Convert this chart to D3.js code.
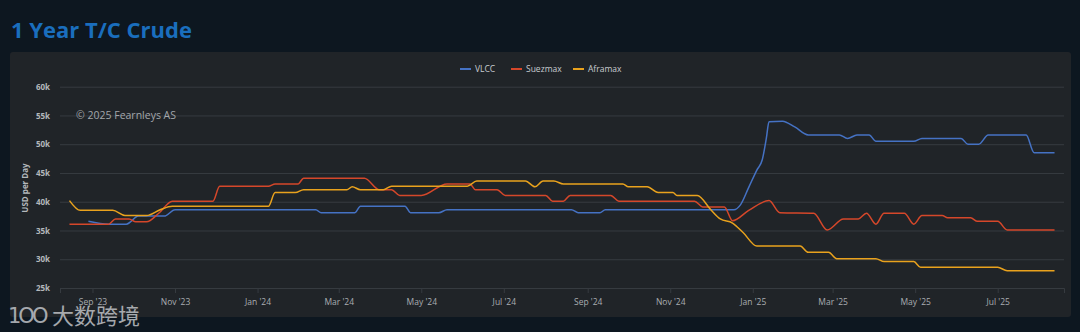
<!DOCTYPE html>
<html><head><meta charset="utf-8">
<script src="https://cdn.jsdelivr.net/npm/d3@7"></script>
<style>
html,body{margin:0;padding:0;background:#0d1720;}
svg{display:block;font-family:"Open Sans","Liberation Sans",sans-serif;}
</style></head>
<body><svg id="c" width="1080" height="332"></svg>
<script>
// ---- data ----
const seriesNames = ["VLCC", "Suezmax", "Aframax"];
const yTicks = [25000, 30000, 35000, 40000, 45000, 50000, 55000, 60000];
const xTickDates = ["2023-09-01","2023-11-01","2024-01-01","2024-03-01","2024-05-01","2024-07-01","2024-09-01","2024-11-01","2025-01-01","2025-03-01","2025-05-01","2025-07-01"];
const vlccDates = ["2023-08-29","2023-09-13","2023-09-26","2023-10-05","2023-10-24","2023-11-01","2024-02-13","2024-02-17","2024-03-13","2024-03-17","2024-04-19","2024-04-23","2024-05-14","2024-05-20","2024-08-20","2024-08-25","2024-09-10","2024-09-14","2024-12-18","2024-12-23","2024-12-29","2025-01-04","2025-01-08","2025-01-11","2025-01-13","2025-01-23","2025-02-01","2025-02-11","2025-03-06","2025-03-12","2025-03-19","2025-03-28","2025-04-02","2025-04-30","2025-05-06","2025-06-04","2025-06-09","2025-06-17","2025-06-24","2025-07-22","2025-07-28","2025-08-12"];
const vlccValues = [36600,36100,36100,37500,37500,38600,38600,38100,38100,39200,39200,38100,38100,38600,38600,38100,38100,38600,38600,39500,42500,45500,47300,51000,53900,54000,53000,51600,51600,51000,51600,51600,50500,50500,51000,51000,50000,50000,51600,51600,48500,48500];
const suezDates = ["2023-08-15","2023-09-13","2023-09-18","2023-09-28","2023-10-03","2023-10-11","2023-10-20","2023-10-30","2023-11-29","2023-12-04","2024-01-09","2024-01-14","2024-01-31","2024-02-04","2024-03-20","2024-03-31","2024-04-09","2024-04-15","2024-05-01","2024-05-20","2024-06-06","2024-06-10","2024-06-26","2024-07-02","2024-08-01","2024-08-06","2024-08-14","2024-08-19","2024-09-18","2024-09-24","2024-11-19","2024-11-25","2024-12-11","2024-12-17","2024-12-29","2025-01-13","2025-01-21","2025-02-15","2025-02-25","2025-03-09","2025-03-20","2025-03-26","2025-04-02","2025-04-08","2025-04-23","2025-04-30","2025-05-06","2025-05-21","2025-05-25","2025-06-11","2025-06-16","2025-07-01","2025-07-08","2025-08-12"];
const suezValues = [36100,36100,37000,37000,36500,36500,38000,40100,40100,42700,42700,43100,43100,44100,44100,42100,42100,41100,41100,43100,43100,42100,42100,41100,41100,40100,40100,41100,41100,40100,40100,39100,39100,36700,38500,40200,38100,38000,35100,37000,37000,38000,36100,38000,38000,36100,37600,37600,37200,37200,36600,36600,35100,35100];
const afraDates = ["2023-08-15","2023-08-23","2023-09-16","2023-09-25","2023-10-11","2023-10-21","2023-10-30","2024-01-09","2024-01-14","2024-01-29","2024-02-04","2024-03-07","2024-03-11","2024-03-17","2024-04-03","2024-04-09","2024-06-04","2024-06-11","2024-07-17","2024-07-24","2024-07-30","2024-08-07","2024-08-14","2024-09-27","2024-10-01","2024-10-15","2024-10-23","2024-11-03","2024-11-06","2024-11-21","2024-12-01","2024-12-08","2024-12-17","2024-12-25","2025-01-04","2025-02-05","2025-02-11","2025-02-26","2025-03-04","2025-04-02","2025-04-08","2025-04-30","2025-05-05","2025-07-01","2025-07-08","2025-08-12"];
const afraValues = [40200,38500,38500,37600,37600,38600,39200,39200,41600,41600,42100,42100,42600,42100,42100,42700,42700,43600,43600,42600,43600,43600,43100,43100,42600,42600,41600,41600,41100,41100,38600,37000,36300,34600,32300,32300,31200,31200,30100,30100,29600,29600,28600,28600,28000,28000];
const colors = ["#4572c4", "#d5472a", "#e9a21d"];

// ---- build ----
const parse = d3.utcParse("%Y-%m-%d");
const series = [
  {name: seriesNames[0], dates: vlccDates, values: vlccValues, color: colors[0]},
  {name: seriesNames[1], dates: suezDates, values: suezValues, color: colors[1]},
  {name: seriesNames[2], dates: afraDates, values: afraValues, color: colors[2]}
].map(s => ({...s, pts: s.dates.map((d,i) => ({d: parse(d), v: s.values[i]}))}));

const svg = d3.select("#c");
svg.append("rect").attr("width",1080).attr("height",332).attr("fill","#0d1720");
svg.append("text").attr("x",11).attr("y",38).text("1 Year T/C Crude")
  .attr("font-size",22).attr("font-weight",700).attr("fill","#1a6ebd");
svg.append("rect").attr("x",10).attr("y",52).attr("width",1061).attr("height",265)
  .attr("rx",3).attr("fill","#202428");

const x = d3.scaleUtc().domain([parse("2023-08-08"), parse("2025-08-19")]).range([60, 1064]);
const y = d3.scaleLinear().domain([25000, 60000]).range([288, 86.7]);

// grid
const gy = svg.append("g").attr("transform","translate(60,0)")
  .call(d3.axisLeft(y).tickValues(yTicks).tickSize(-1004).tickFormat(d => d/1000 + "k"));
gy.select(".domain").remove();
gy.selectAll(".tick line").attr("stroke","#363b40").attr("stroke-width",1);
gy.selectAll(".tick text").attr("x",-10).attr("fill","#b4b8bc").attr("font-size",8)
  .attr("font-weight",700).attr("font-family","Open Sans, sans-serif");

const gx = svg.append("g").attr("transform","translate(0,288)")
  .call(d3.axisBottom(x).tickValues(xTickDates.map(parse)).tickSize(5).tickPadding(6)
    .tickFormat(d3.utcFormat("%b '%y")));
gx.select(".domain").attr("stroke","#363b40");
gx.selectAll(".tick line").attr("stroke","#363b40");
gx.selectAll(".tick text").attr("fill","#a9adb1").attr("font-size",8.5)
  .attr("font-family","Open Sans, sans-serif");

// axis title
svg.append("text").attr("transform","translate(28,188) rotate(-90)").attr("text-anchor","middle")
  .text("USD per Day").attr("fill","#b4b8bc").attr("font-size",8).attr("font-weight",700);

// credit
svg.append("text").attr("x",76).attr("y",119).text("© 2025 Fearnleys AS")
  .attr("fill","#a3a7ab").attr("font-size",10.5);

// lines
const line = d3.line().x(p => x(p.d)).y(p => y(p.v)).curve(d3.curveMonotoneX);
series.forEach(s => {
  svg.append("path").datum(s.pts).attr("d", line).attr("fill","none")
    .attr("stroke", s.color).attr("stroke-width",1.5).attr("stroke-linejoin","round");
});

// legend
const legX = [460, 511, 573];
series.forEach((s,i) => {
  const g = svg.append("g").attr("transform",`translate(${legX[i]},69)`);
  g.append("line").attr("x1",0).attr("x2",11).attr("stroke",s.color).attr("stroke-width",2);
  g.append("text").attr("x",15).attr("y",3).text(s.name).attr("fill","#c8ccd0").attr("font-size",8.5);
});

// watermark
const wm = svg.append("g").attr("opacity",0.8);
wm.append("text").attr("x",8).attr("y",323).text("1OO").attr("fill","#c9ccd0")
  .attr("font-size",21).attr("font-family","DejaVu Sans, sans-serif").attr("letter-spacing",-3);
wm.append("text").attr("x",52).attr("y",324).text("大数跨境").attr("fill","#c9ccd0")
  .attr("font-size",22).attr("font-family","Noto Sans CJK SC, sans-serif");
</script></body></html>
